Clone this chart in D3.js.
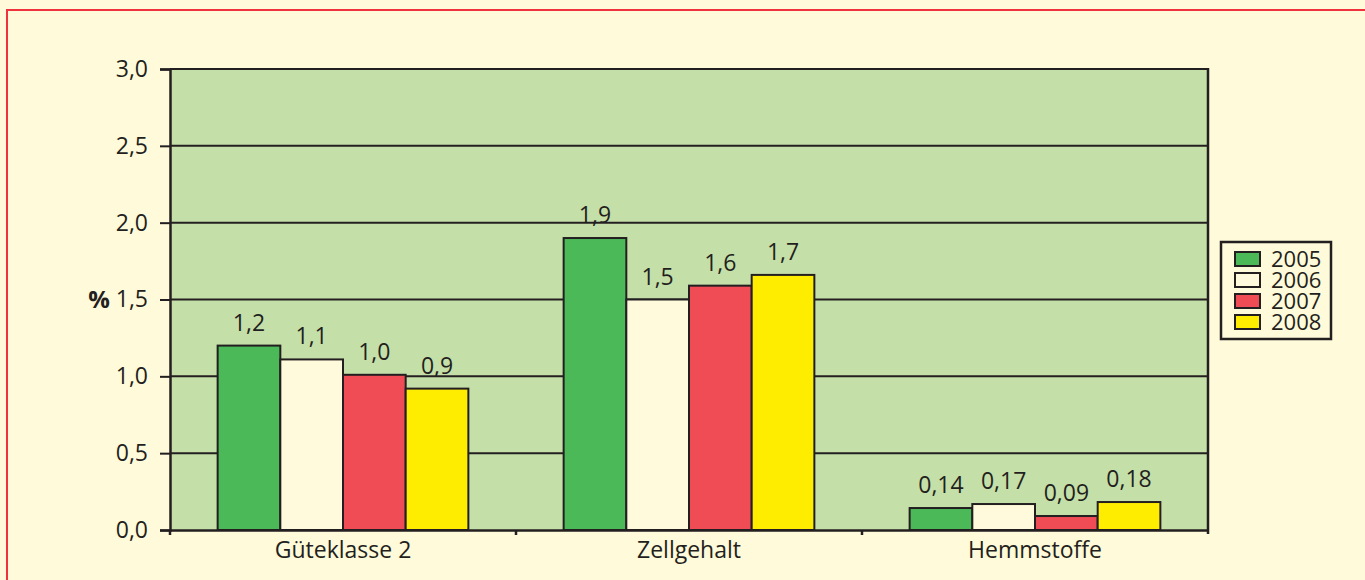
<!DOCTYPE html>
<html>
<head>
<meta charset="utf-8">
<script src="https://cdn.jsdelivr.net/npm/d3@7.9.0/dist/d3.min.js"></script>
<style>
  html, body { margin: 0; padding: 0; background: #fffad9; }
  svg { display: block; font-family: "Open Sans", sans-serif; }
</style>
</head>
<body>
<svg id="chart" width="1365" height="580"></svg>
<script>
// data
const categories = ['Güteklasse 2', 'Zellgehalt', 'Hemmstoffe'];
const years = ['2005', '2006', '2007', '2008'];
const values2005 = [1.2, 1.9, 0.143];
const values2006 = [1.11, 1.5, 0.169];
const values2007 = [1.01, 1.59, 0.091];
const values2008 = [0.92, 1.66, 0.182];
const labels2005 = ['1,2', '1,9', '0,14'];
const labels2006 = ['1,1', '1,5', '0,17'];
const labels2007 = ['1,0', '1,6', '0,09'];
const labels2008 = ['0,9', '1,7', '0,18'];
const yTicks = [0, 0.5, 1, 1.5, 2, 2.5, 3];

const series = [values2005, values2006, values2007, values2008];
const seriesLabels = [labels2005, labels2006, labels2007, labels2008];
const colors = ['#4bb958', '#fffadc', '#ef4c55', '#ffed00'];
const ink = '#231f20';

const svg = d3.select('#chart');
const plot = { left: 170, right: 1208, top: 69, bottom: 530 };

// page frame
svg.append('rect').attr('x', 0).attr('y', 0).attr('width', 1365).attr('height', 580).attr('fill', '#fffad9');
svg.append('rect')
   .attr('x', 7).attr('y', 10).attr('width', 1400).attr('height', 600)
   .attr('fill', 'none').attr('stroke', '#f0323f').attr('stroke-width', 2);

const x0 = d3.scaleBand().domain(categories).range([plot.left, plot.right]);
const x1 = d3.scaleBand().domain(years).range([0, x0.bandwidth()]).paddingOuter(0.76);
const y = d3.scaleLinear().domain([0, 3]).range([plot.bottom, plot.top]);

const fmt = d3.formatLocale({ decimal: ',', thousands: '.', grouping: [3], currency: ['', '€'] }).format('.1f');

// plot area
svg.append('rect')
   .attr('x', plot.left).attr('y', plot.top)
   .attr('width', plot.right - plot.left).attr('height', plot.bottom - plot.top)
   .attr('fill', '#c5dfa8');

// gridlines
svg.append('g').selectAll('line')
   .data(yTicks.filter(d => d > 0))
   .join('line')
   .attr('x1', plot.left).attr('x2', plot.right)
   .attr('y1', d => y(d)).attr('y2', d => y(d))
   .attr('stroke', ink).attr('stroke-width', 2);

// y axis
const yAxis = svg.append('g')
   .attr('transform', `translate(${plot.left},0)`)
   .call(d3.axisLeft(y).tickValues(yTicks).tickFormat(fmt).tickSize(10).tickPadding(12));
yAxis.select('.domain').attr('stroke', ink).attr('stroke-width', 2.5);
yAxis.selectAll('.tick line').attr('stroke', ink).attr('stroke-width', 2);
yAxis.selectAll('.tick text').attr('fill', ink).style('font-size', '23px').style('font-family', '"Open Sans", sans-serif');

svg.append('text')
   .attr('x', 99).attr('y', y(1.5))
   .attr('dy', '0.35em').attr('text-anchor', 'middle')
   .attr('fill', ink).style('font-size', '24px').style('font-weight', 'bold')
   .text('%');

// right border of plot
svg.append('line')
   .attr('x1', plot.right).attr('x2', plot.right)
   .attr('y1', plot.top - 1).attr('y2', plot.bottom + 4)
   .attr('stroke', ink).attr('stroke-width', 2.5);

// bars
const groups = svg.append('g').selectAll('g')
   .data(categories)
   .join('g')
   .attr('transform', d => `translate(${x0(d)},0)`);

years.forEach((yr, s) => {
    groups.append('rect')
       .attr('x', x1(yr))
       .attr('y', (d, i) => y(series[s][i]))
       .attr('width', x1.bandwidth())
       .attr('height', (d, i) => y(0) - y(series[s][i]))
       .attr('fill', colors[s])
       .attr('stroke', ink).attr('stroke-width', 2);

    groups.append('text')
       .attr('x', x1(yr) + x1.bandwidth() / 2)
       .attr('y', (d, i) => y(series[s][i]) - 15)
       .attr('text-anchor', 'middle')
       .attr('fill', ink).style('font-size', '23px')
       .text((d, i) => seriesLabels[s][i]);
});

// x axis
const xAxis = svg.append('g')
   .attr('transform', `translate(0,${plot.bottom})`)
   .call(d3.axisBottom(x0).tickSize(0).tickPadding(12));
xAxis.select('.domain').attr('stroke', ink).attr('stroke-width', 2.5);
xAxis.selectAll('.tick text').attr('fill', ink).style('font-size', '23px').style('font-family', '"Open Sans", sans-serif');

// category boundary ticks
svg.append('g').selectAll('line')
   .data(categories)
   .join('line')
   .attr('x1', d => x0(d)).attr('x2', d => x0(d))
   .attr('y1', plot.bottom).attr('y2', plot.bottom + 5)
   .attr('stroke', ink).attr('stroke-width', 2.5);

// legend
const legend = svg.append('g').attr('transform', 'translate(1221,242)');
legend.append('rect')
   .attr('width', 110).attr('height', 97)
   .attr('fill', 'none').attr('stroke', ink).attr('stroke-width', 2.5);
years.forEach((yr, s) => {
    const row = legend.append('g').attr('transform', `translate(0,${10 + s * 21})`);
    row.append('rect')
       .attr('x', 14).attr('y', 0).attr('width', 25).attr('height', 14)
       .attr('fill', colors[s]).attr('stroke', ink).attr('stroke-width', 2);
    row.append('text')
       .attr('x', 50).attr('y', 7).attr('dy', '0.36em')
       .attr('fill', ink).style('font-size', '22px')
       .text(yr);
});
</script>
</body>
</html>
